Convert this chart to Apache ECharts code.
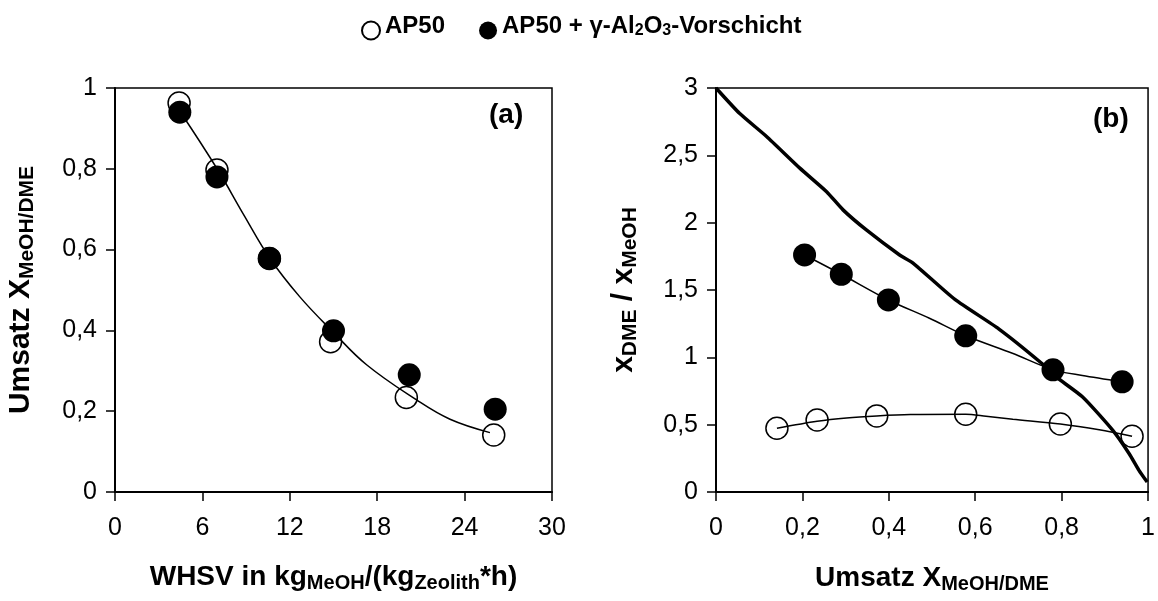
<!DOCTYPE html>
<html>
<head>
<meta charset="utf-8">
<script src="https://cdn.jsdelivr.net/npm/echarts@6/dist/echarts.min.js"></script>
<style>
html,body{margin:0;padding:0;background:#fff;}
#c{width:1158px;height:601px;}
</style>
</head>
<body>
<div id="c"></div>
<script>
// ---- Data ----
// Panel (a): WHSV vs conversion
const whsvOpen = [4.4, 7.0, 10.6, 14.8, 20.0, 26.0];
const umsatzOpen = [0.963, 0.797, 0.578, 0.372, 0.234, 0.141];
const whsvFilled = [4.45, 7.0, 10.6, 15.0, 20.2, 26.1];
const umsatzFilled = [0.94, 0.78, 0.578, 0.399, 0.29, 0.205];
// fit curve in (a)
const fitAx = [4.5, 7.06, 8.81, 10.64, 12.69, 15.0, 17.27, 20.7, 23.0, 25.74];
const fitAy = [0.94, 0.797, 0.688, 0.578, 0.483, 0.395, 0.315, 0.228, 0.18, 0.147];

// Panel (b): conversion (same samples as above) vs x_DME / x_MeOH
const ratioOpen = [0.414, 0.505, 0.577, 0.565, 0.535, 0.473];
const ratioFilled = [0.818, 0.907, 1.16, 1.426, 1.617, 1.76];
const fitOpenX = [0.141, 0.234, 0.302, 0.372, 0.45, 0.578, 0.625, 0.687, 0.797, 0.887, 0.963];
const fitOpenY = [0.473, 0.525, 0.55, 0.565, 0.575, 0.577, 0.562, 0.54, 0.505, 0.462, 0.414];
const fitFilledX = [0.205, 0.29, 0.399, 0.494, 0.578, 0.686, 0.78, 0.848, 0.94];
const fitFilledY = [1.76, 1.617, 1.426, 1.29, 1.16, 1.03, 0.907, 0.865, 0.818];
const eqX = [0, 0.055, 0.117, 0.194, 0.256, 0.294, 0.348, 0.425, 0.456, 0.553, 0.655, 0.753, 0.785, 0.848, 0.918, 0.956, 0.979, 0.998];
const eqY = [3, 2.81, 2.64, 2.405, 2.23, 2.095, 1.946, 1.76, 1.70, 1.43, 1.21, 0.958, 0.86, 0.707, 0.459, 0.286, 0.161, 0.074];

// Tick labels
const xTicksA = [0, 6, 12, 18, 24, 30];
const xLabelsA = ['0', '6', '12', '18', '24', '30'];
const yTicksA = [0, 0.2, 0.4, 0.6, 0.8, 1];
const yLabelsA = ['0', '0,2', '0,4', '0,6', '0,8', '1'];
const xTicksB = [0, 0.2, 0.4, 0.6, 0.8, 1];
const xLabelsB = ['0', '0,2', '0,4', '0,6', '0,8', '1'];
const yTicksB = [0, 0.5, 1, 1.5, 2, 2.5, 3];
const yLabelsB = ['0', '0,5', '1', '1,5', '2', '2,5', '3'];

const nameOpen = 'AP50';
const nameFilled = 'AP50 + γ-Al2O3-Vorschicht';

// ---- helpers ----
const zip = (a, b) => a.map((v, i) => [v, b[i]]);
const fmt = (ticks, labels) => v => {
  const i = ticks.findIndex(t => Math.abs(t - v) < 1e-9);
  return i >= 0 ? labels[i] : '';
};
const FONT = 'Liberation Sans, Arial, sans-serif';
const titleRich = {
  b: { fontSize: 28, fontWeight: 'bold', fontFamily: FONT, color: '#000', padding: [0, 0, 12, 0] },
  s: { fontSize: 20, fontWeight: 'bold', fontFamily: FONT, color: '#000' }
};
const titleRichY = {
  b: { fontSize: 30, fontWeight: 'bold', fontFamily: FONT, color: '#000', padding: [0, 0, 12, 0] },
  s: { fontSize: 21, fontWeight: 'bold', fontFamily: FONT, color: '#000' }
};
const axisCommon = {
  axisLine: { show: true, onZero: false, lineStyle: { color: '#000', width: 2 } },
  axisTick: { show: true, inside: false, length: 9, lineStyle: { color: '#000', width: 1.5 } },
  splitLine: { show: false },
  axisLabel: { color: '#000', fontSize: 25, fontFamily: FONT }
};

const chart = echarts.init(document.getElementById('c'), null, { renderer: 'canvas' });
chart.setOption({
  animation: false,
  backgroundColor: '#fff',
  legend: {
    data: [nameOpen, nameFilled],
    left: 356, top: 9,
    itemWidth: 18, itemHeight: 18, itemGap: 34,
    selectedMode: false,
    formatter: n => n === nameOpen ? '{b|AP50}' : '{b|AP50 + γ-Al}{s|2}{b|O}{s|3}{b|-Vorschicht}',
    textStyle: {
      rich: {
        b: { fontSize: 24, fontWeight: 'bold', fontFamily: FONT, color: '#000', padding: [0, 0, 9, 0] },
        s: { fontSize: 16, fontWeight: 'bold', fontFamily: FONT, color: '#000' }
      }
    }
  },
  grid: [
    { left: 115, top: 88, width: 437, height: 404, show: true, borderColor: '#000', borderWidth: 1.5, backgroundColor: 'transparent' },
    { left: 716, top: 88, width: 433, height: 404, show: true, borderColor: '#000', borderWidth: 1.5, backgroundColor: 'transparent' }
  ],
  xAxis: [
    Object.assign({}, axisCommon, {
      type: 'value', gridIndex: 0, min: 0, max: 30, interval: 6,
      axisLabel: Object.assign({}, axisCommon.axisLabel, { margin: 24, formatter: fmt(xTicksA, xLabelsA) }),
      name: '{b|WHSV in kg}{s|MeOH}{b|/(kg}{s|Zeolith}{b|*h)}',
      nameLocation: 'middle', nameGap: 71,
      nameTextStyle: { rich: titleRich }
    }),
    Object.assign({}, axisCommon, {
      type: 'value', gridIndex: 1, min: 0, max: 1, interval: 0.2,
      axisLabel: Object.assign({}, axisCommon.axisLabel, { margin: 24, formatter: fmt(xTicksB, xLabelsB) }),
      name: '{b|Umsatz X}{s|MeOH/DME}',
      nameLocation: 'middle', nameGap: 72,
      nameTextStyle: { rich: titleRich }
    })
  ],
  yAxis: [
    Object.assign({}, axisCommon, {
      type: 'value', gridIndex: 0, min: 0, max: 1, interval: 0.2,
      axisLabel: Object.assign({}, axisCommon.axisLabel, { margin: 18, formatter: fmt(yTicksA, yLabelsA) }),
      name: '{b|Umsatz X}{s|MeOH/DME}',
      nameLocation: 'middle', nameGap: 67, nameRotate: 90,
      nameTextStyle: { rich: titleRichY }
    }),
    Object.assign({}, axisCommon, {
      type: 'value', gridIndex: 1, min: 0, max: 3, interval: 0.5,
      axisLabel: Object.assign({}, axisCommon.axisLabel, { margin: 18, formatter: fmt(yTicksB, yLabelsB) }),
      name: '{b|x}{s|DME}{b| / x}{s|MeOH}',
      nameLocation: 'middle', nameGap: 65, nameRotate: 90,
      nameTextStyle: { rich: titleRichY }
    })
  ],
  graphic: [
    { type: 'text', left: 489, top: 101, silent: true,
      style: { text: '(a)', fontSize: 28, fontWeight: 'bold', fontFamily: FONT, fill: '#000' } },
    { type: 'text', left: 1093, top: 105, silent: true,
      style: { text: '(b)', fontSize: 28, fontWeight: 'bold', fontFamily: FONT, fill: '#000' } }
  ],
  series: [
    { name: 'fitA', type: 'line', xAxisIndex: 0, yAxisIndex: 0, data: zip(fitAx, fitAy),
      smooth: 0.4, symbol: 'none', lineStyle: { color: '#000', width: 1.5 }, silent: true, z: 2 },
    { name: 'eqB', type: 'line', xAxisIndex: 1, yAxisIndex: 1, data: zip(eqX, eqY),
      smooth: 0.2, symbol: 'none', lineStyle: { color: '#000', width: 3.5 }, silent: true, z: 2 },
    { name: 'fitOpenB', type: 'line', xAxisIndex: 1, yAxisIndex: 1, data: zip(fitOpenX, fitOpenY),
      smooth: 0.3, symbol: 'none', lineStyle: { color: '#000', width: 1.5 }, silent: true, z: 2 },
    { name: 'fitFilledB', type: 'line', xAxisIndex: 1, yAxisIndex: 1, data: zip(fitFilledX, fitFilledY),
      smooth: 0.3, symbol: 'none', lineStyle: { color: '#000', width: 1.5 }, silent: true, z: 2 },
    { name: nameOpen, type: 'scatter', xAxisIndex: 0, yAxisIndex: 0, data: zip(whsvOpen, umsatzOpen),
      symbol: 'circle', symbolSize: 22, itemStyle: { color: 'rgba(255,255,255,0)', borderColor: '#000', borderWidth: 1.5, opacity: 1 }, z: 3 },
    { name: nameOpen, type: 'scatter', xAxisIndex: 1, yAxisIndex: 1, data: zip(umsatzOpen, ratioOpen),
      symbol: 'circle', symbolSize: 22, itemStyle: { color: 'rgba(255,255,255,0)', borderColor: '#000', borderWidth: 1.5, opacity: 1 }, z: 3 },
    { name: nameFilled, type: 'scatter', xAxisIndex: 0, yAxisIndex: 0, data: zip(whsvFilled, umsatzFilled),
      symbol: 'circle', symbolSize: 23, itemStyle: { color: '#000', opacity: 1 }, z: 4 },
    { name: nameFilled, type: 'scatter', xAxisIndex: 1, yAxisIndex: 1, data: zip(umsatzFilled, ratioFilled),
      symbol: 'circle', symbolSize: 23, itemStyle: { color: '#000', opacity: 1 }, z: 4 }
  ]
});
</script>
</body>
</html>
